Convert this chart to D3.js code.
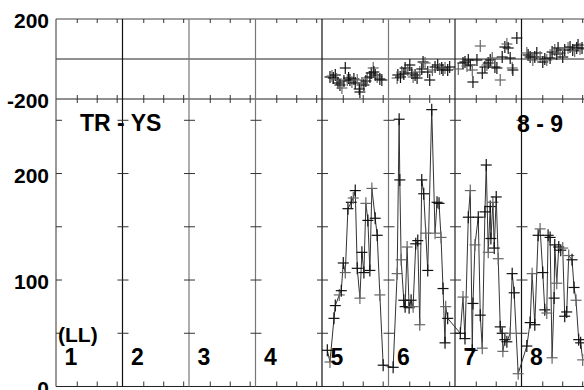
<!DOCTYPE html>
<html><head><meta charset="utf-8">
<script src="https://cdn.jsdelivr.net/npm/d3@7"></script>
<style>body{margin:0;background:#fff}svg{display:block}text{font-family:"Liberation Sans",Arial,sans-serif;font-weight:bold;fill:#000}</style>
</head><body>
<svg id="c" width="584" height="390"></svg>
<script>
// ---- data ----
const columnStarts = [0, 10, 20, 30, 40, 50, 60, 70];
const columnLabels = ["1", "2", "3", "4", "5", "6", "7", "8"];
const minorOffsets = [3.2, 6.2, 9.2];
const topTickValues = [200, -200];
const topTickLabels = ["200", "-200"];
const lowTickValues = [0, 100, 200];
const lowTickLabels = ["0", "100", "200"];
const lowMinorValues = [50, 100, 150, 200, 250];
const panelTitle = "TR - YS";
const rangeLabel = "8 - 9";
const unitLabel = "(LL)";

// lower panel series (time, value)
const lowX = [40.8, 41.2, 41.8, 42.0, 42.6, 42.9, 43.2, 43.5, 43.9, 44.4, 44.7, 45.0, 45.3, 45.7, 46.0, 46.3, 46.6, 46.9, 47.2, 47.5, 48.0, 48.3, 48.7, 49.2,
  50.7, 51.3, 51.6, 51.7, 51.9, 52.3, 52.5, 52.8, 53.1, 53.4, 53.7, 54.1, 54.4, 54.7, 55.0, 55.3, 55.6, 55.9, 56.5, 57.0, 57.3, 57.6, 57.9, 58.2, 58.5, 58.6, 58.9,
  60.8, 61.2, 61.5, 62.0, 62.3, 62.6, 62.7, 63.0, 63.5, 63.8, 64.1, 64.5, 64.7, 65.0, 65.3, 65.4, 65.7, 65.9, 66.2, 66.5, 66.8, 67.1, 67.2, 67.5, 67.8, 68.3, 68.6, 68.9, 69.5,
  70.8, 71.3, 71.6, 72.0, 72.5, 72.8, 73.2, 73.5, 73.8, 74.0, 74.3, 74.6, 74.9, 75.0, 75.3, 75.6, 75.9, 76.2, 76.5, 76.8, 77.1, 77.6, 77.9, 78.2, 78.6, 78.9, 79.2];
const lowY = [34, 23, 64, 76, 86, 90, 116, 107, 167, 173, 177, 184, 111, 83, 126, 107, 172, 156, 109, 186, 158, 142, 86, 20,
  18, 106, 251, 194, 119, 81, 75, 131, 74, 81, 75, 134, 137, 58, 194, 181, 144, 109, 260, 144, 173, 172, 140, 92, 41, 75, 64,
  50, 84, 45, 159, 184, 34, 78, 133, 159, 67, 36, 164, 208, 126, 169, 139, 173, 130, 178, 120, 56, 50, 33, 44, 42, 50, 106, 88, 12,
  38, 60, 106, 58, 142, 148, 107, 72, 69, 142, 140, 27, 83, 133, 97, 131, 128, 130, 66, 70, 123, 119, 93, 81, 44, 41, 25];

// upper panel scatter (time, value)
const topX = [41.2, 41.5, 41.7, 42.0, 42.2, 42.4, 42.7, 43.0, 43.3, 43.5, 43.8, 44.0, 44.2, 44.5, 44.8, 45.0, 45.3, 45.6, 45.7, 46.0, 46.3, 46.6, 46.8, 47.2, 47.4, 47.7, 47.8, 48.0, 48.3, 48.7, 49.0,
  51.3, 51.4, 51.8, 52.0, 52.3, 52.5, 52.9, 53.2, 53.5, 53.7, 54.0, 54.3, 54.7, 55.0, 55.2, 55.5, 55.9, 56.2, 56.6, 57.0, 57.4, 57.7, 58.0, 58.2, 58.5, 58.9, 59.2,
  60.5, 61.2, 61.5, 61.8, 62.0, 62.3, 62.6, 62.7, 63.3, 63.8, 64.1, 64.5, 64.8, 65.0, 65.3, 65.6, 66.0, 66.3, 66.8, 67.1, 67.5, 67.8, 68.0, 68.3, 68.6, 68.7, 69.3,
  70.8, 71.0, 71.3, 71.7, 72.0, 72.3, 72.8, 73.2, 73.5, 73.8, 74.3, 74.6, 75.0, 75.3, 75.5, 75.8, 76.2, 76.5, 77.0, 77.3, 77.7, 78.0, 78.3, 78.5, 78.8, 79.1];
const topY = [-90, -85, -95, -80, -100, -120, -130, -145, -110, -45, -105, -95, -105, -115, -100, -120, -105, -150, -165, -120, -130, -110, -95, -90, -70, -45, -65, -80, -90, -100, -105,
  -95, -80, -90, -65, -75, -45, -55, -30, -70, -90, -80, -95, -65, -50, -15, -20, -65, -105, -55, -40, -30, -50, -45, -55, -45, -55, -40,
  -50, -20, -15, -35, -5, -30, -55, -115, -5, 65, -70, -40, -30, -20, -5, 5, -40, -45, -105, 10, 60, 75, 55, 5, -45, -55, 105,
  30, 20, 10, -5, 10, 30, 10, -15, 0, -5, 5, 35, 45, 25, 55, 30, 10, 45, 55, 60, 45, 40, 55, 70, 50, 55];

// ---- drawing ----
const svg = d3.select("#c");
const x = d3.scaleLinear().domain([0, 80]).range([56, 588]);
const yTop = d3.scaleLinear().domain([-200, 200]).range([99, 19]);
const yLow = d3.scaleLinear().domain([0, 270]).range([386.5, 99]);

const axisColor = "#333";
const dividerColors = ["#555", "#111", "#777", "#777", "#111", "#777", "#222", "#111"];

// horizontal frame lines
[yTop(200), yTop(0), yTop(-200), yLow(0)].forEach((yy, i) => {
  svg.append("line").attr("x1", x(0)).attr("x2", 584).attr("y1", yy).attr("y2", yy)
    .attr("stroke", i === 0 ? "#444" : "#222").attr("stroke-width", 1.2);
});

// column dividers
svg.selectAll(".div").data(columnStarts).join("line")
  .attr("x1", d => x(d)).attr("x2", d => x(d))
  .attr("y1", yTop(200)).attr("y2", yLow(0))
  .attr("stroke", (d, i) => dividerColors[i]).attr("stroke-width", 1.2);

// minor x ticks
const minor = [];
columnStarts.forEach(c => minorOffsets.forEach(o => minor.push(c + o)));
const tg = svg.append("g").attr("stroke", axisColor).attr("stroke-width", 1);
minor.forEach(m => {
  const px = x(m);
  tg.append("line").attr("x1", px).attr("x2", px).attr("y1", yTop(200)).attr("y2", yTop(200) + 4);
  tg.append("line").attr("x1", px).attr("x2", px).attr("y1", yTop(-200) - 4).attr("y2", yTop(-200) + 4);
  tg.append("line").attr("x1", px).attr("x2", px).attr("y1", yLow(0) - 5).attr("y2", yLow(0));
});

// divider y ticks in lower panel
columnStarts.forEach((c, i) => {
  lowMinorValues.forEach(v => {
    const py = yLow(v);
    tg.append("line").attr("x1", i === 0 ? x(c) : x(c) - 5).attr("x2", x(c) + 6)
      .attr("y1", py).attr("y2", py);
  });
});

// y axis labels
svg.selectAll(".tl").data(topTickValues).join("text")
  .attr("x", 49).attr("y", d => yTop(d) + 9).attr("text-anchor", "end")
  .attr("font-size", 21).text((d, i) => topTickLabels[i]);
svg.selectAll(".ll").data(lowTickValues).join("text")
  .attr("x", 49).attr("y", d => yLow(d) + 9).attr("text-anchor", "end")
  .attr("font-size", 21).text((d, i) => lowTickLabels[i]);

// lower series line
const line = d3.line().x(d => x(d[0])).y(d => yLow(d[1]));
const lowData = lowX.map((v, i) => [v, lowY[i]]);
svg.append("path").datum(lowData).attr("d", line)
  .attr("fill", "none").attr("stroke", "#333").attr("stroke-width", 1);

function crosses(data, yScale) {
  const g = svg.append("g");
  data.forEach((d, i) => {
    const px = x(d[0]), py = yScale(d[1]);
    const col = i % 3 === 1 ? "#666" : "#111";
    g.append("line").attr("x1", px - 5.5).attr("x2", px + 5.5).attr("y1", py).attr("y2", py)
      .attr("stroke", col).attr("stroke-width", 1.2);
    g.append("line").attr("x1", px).attr("x2", px).attr("y1", py - 6).attr("y2", py + 6)
      .attr("stroke", col).attr("stroke-width", 1.2);
  });
}
crosses(lowData, yLow);
const topData = topX.map((v, i) => [v, topY[i]]);
crosses(topData, yTop);

// labels
svg.selectAll(".cl").data(columnStarts).join("text")
  .attr("x", d => x(d) + 8.5).attr("y", 365).attr("font-size", 23)
  .text((d, i) => columnLabels[i]);
svg.append("text").attr("x", 58).attr("y", 342).attr("font-size", 21).text(unitLabel);
svg.append("text").attr("x", 80).attr("y", 131).attr("font-size", 23).text(panelTitle);
svg.append("text").attr("x", 517).attr("y", 132).attr("font-size", 23).text(rangeLabel);
</script>
</body></html>
